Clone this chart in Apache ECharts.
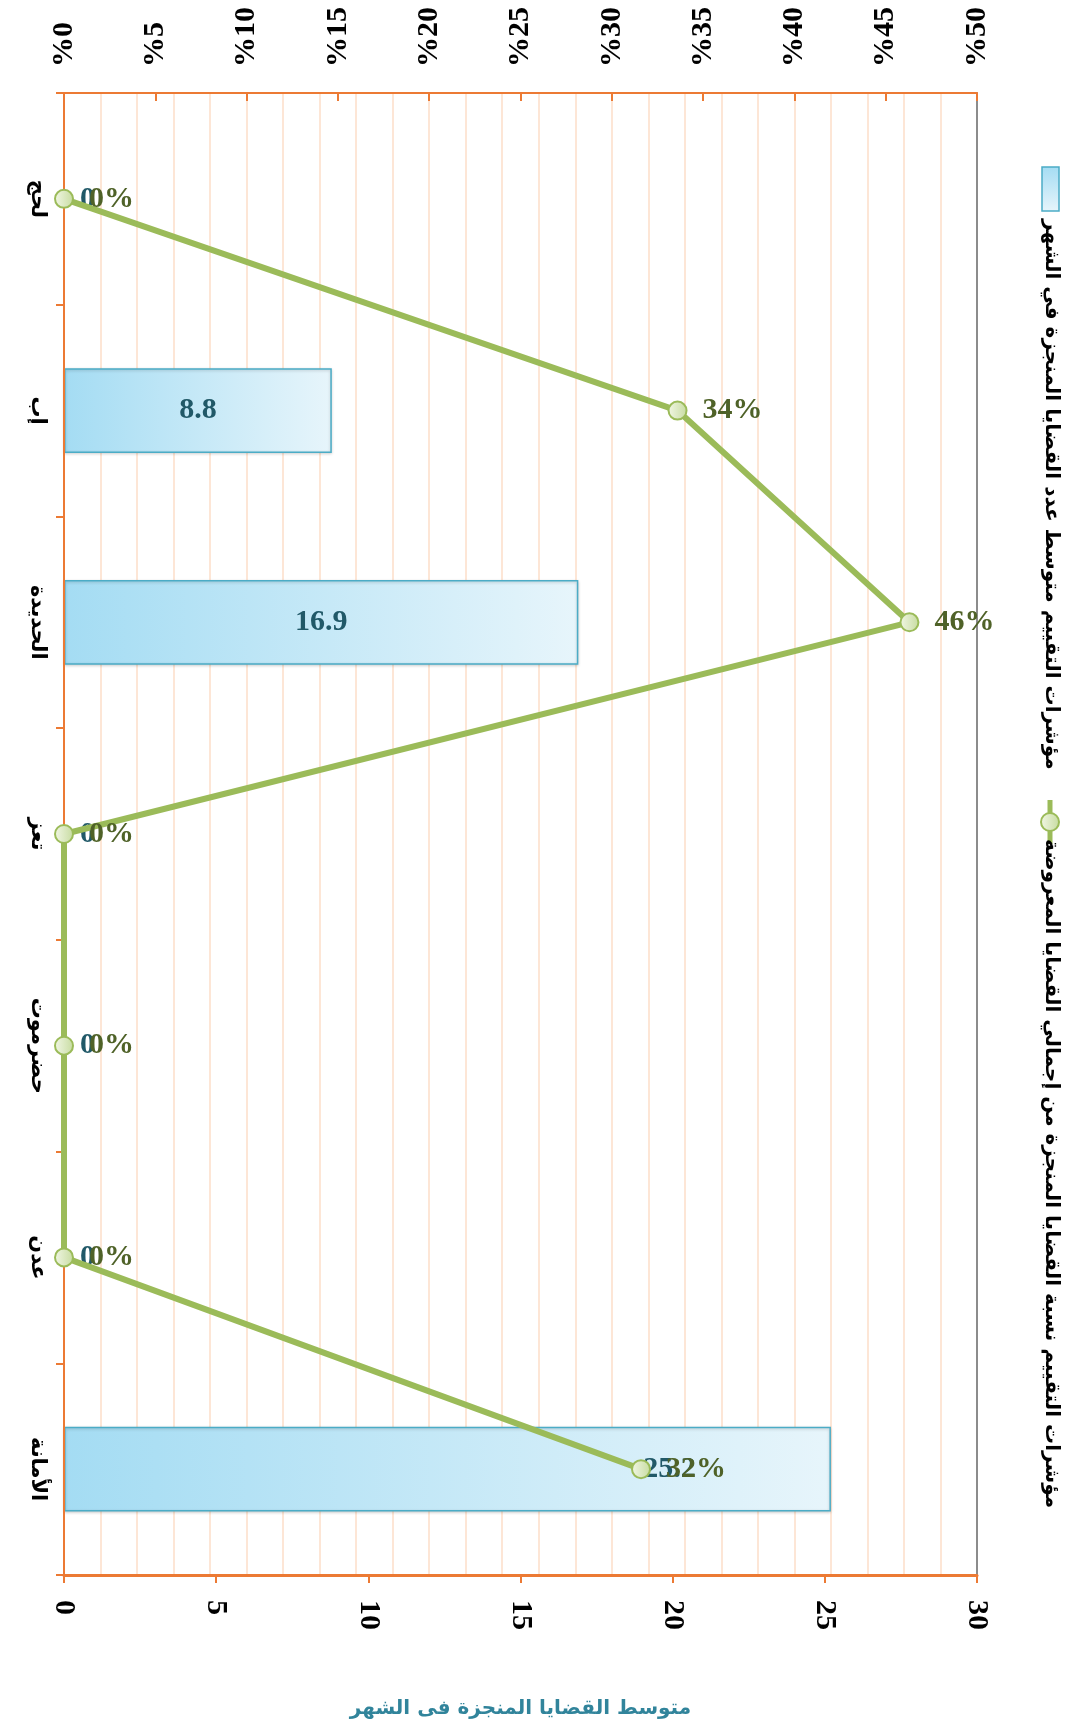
<!DOCTYPE html>
<html>
<head>
<meta charset="utf-8">
<script src="https://cdn.jsdelivr.net/npm/echarts@6/dist/echarts.min.js"></script>
<style>
html,body{margin:0;padding:0;background:#fff;}
#chart{width:1075px;height:1726px;}
</style>
</head>
<body>
<div id="chart"></div>
<script>
// ---- data ----
const categories = ['لحج', 'إب', 'الحديدة', 'تعز', 'حضرموت', 'عدن', 'الأمانة'];
const avgCasesPerMonth = [0, 8.8, 16.9, 0, 0, 0, 25.2];
const completedSharePct = [0, 33.6, 46.3, 0, 0, 0, 31.6];
const countAxisMax = 30, countAxisStep = 5;
const pctAxisMax = 50, pctAxisStep = 5;
const seriesNames = [
  'مؤشرات التقييم متوسط عدد القضايا المنجزة في الشهر',
  'مؤشرات التقييم نسبة القضايا المنجزة من إجمالي القضايا المعروضة'
];
const countAxisTitle = 'متوسط القضايا المنجزة فى الشهر';

// ---- styles ----
const ORANGE = '#ec7a34';
const NUM_FONT = 'Liberation Serif';
const AR_FONT = 'DejaVu Sans';
const barFill = {type:'linear', x:0, y:0, x2:1, y2:0,
  colorStops:[{offset:0, color:'#a4dcf3'},{offset:1, color:'#e7f5fb'}]};
const dotFill = {type:'linear', x:0, y:0, x2:1, y2:0,
  colorStops:[{offset:0, color:'#f2f7e6'},{offset:1, color:'#c6db9f'}]};

const chart = echarts.init(document.getElementById('chart'), null, {renderer:'canvas'});

const barData = avgCasesPerMonth.map((v, i) => {
  if (v === 0) return {value: v, itemStyle: {borderWidth: 0, shadowBlur: 0, shadowOffsetY: 0},
    label: {position: 'right', distance: 16}};
  if (i === categories.length - 1) return {value: v, label: {offset: [222, 0]}};
  return v;
});

const option = {
  backgroundColor: '#ffffff',
  animation: false,
  grid: {left: 64, right: 98, top: 93, bottom: 151, containLabel: false},
  xAxis: [
    {
      type: 'value', position: 'bottom', min: 0, max: countAxisMax, interval: countAxisStep,
      axisLine: {show: true, onZero: false, lineStyle: {color: ORANGE, width: 3}},
      axisTick: {show: true, inside: false, length: 8, lineStyle: {color: ORANGE, width: 2}},
      axisLabel: {rotate: -90, margin: 25, color: '#000', fontFamily: NUM_FONT, fontWeight: 'bold', fontSize: 30},
      splitLine: {show: false},
      name: countAxisTitle, nameLocation: 'middle', nameGap: 124,
      nameTextStyle: {color: '#31849b', fontFamily: AR_FONT, fontWeight: 'bold', fontSize: 20}
    },
    {
      type: 'value', position: 'top', min: 0, max: pctAxisMax, interval: pctAxisStep,
      axisLine: {show: true, onZero: false, lineStyle: {color: ORANGE, width: 2}},
      axisTick: {show: true, inside: true, length: 8, lineStyle: {color: ORANGE, width: 2}},
      axisLabel: {rotate: -90, margin: 26, color: '#000', fontFamily: NUM_FONT, fontWeight: 'bold', fontSize: 30,
        formatter: v => '%' + v},
      splitLine: {show: false}
    },
    {
      type: 'value', position: 'top', min: 0, max: 25, interval: 1,
      axisLine: {show: false}, axisTick: {show: false}, axisLabel: {show: false},
      splitLine: {show: true, lineStyle: {color: '#fde6d6', width: 2}}
    }
  ],
  yAxis: [
    {
      type: 'category', data: categories, inverse: true, position: 'left', z: 4,
      axisLine: {show: true, onZero: false, lineStyle: {color: ORANGE, width: 2}},
      axisTick: {show: true, inside: false, length: 8, lineStyle: {color: ORANGE, width: 2}},
      axisLabel: {rotate: -90, margin: 16, color: '#000', fontFamily: AR_FONT, fontWeight: 'bold', fontSize: 21},
      splitLine: {show: false}
    },
    {
      type: 'category', data: categories, inverse: true, position: 'right',
      axisLine: {show: true, onZero: false, lineStyle: {color: '#8c8c8c', width: 2}},
      axisTick: {show: false}, axisLabel: {show: false}, splitLine: {show: false}
    }
  ],
  series: [
    {
      name: seriesNames[0], type: 'bar', xAxisIndex: 0, yAxisIndex: 0,
      data: barData, barWidth: '40%', z: 2,
      itemStyle: {color: barFill, borderColor: '#4bacc6', borderWidth: 1.5,
        shadowColor: 'rgba(0,0,0,0.2)', shadowBlur: 3, shadowOffsetY: 1},
      label: {show: true, position: 'inside', color: '#215968', fontFamily: NUM_FONT,
        fontWeight: 'bold', fontSize: 30}
    },
    {
      name: seriesNames[1], type: 'line', xAxisIndex: 1, yAxisIndex: 0,
      data: completedSharePct, z: 5,
      lineStyle: {color: '#9bbb59', width: 6},
      symbol: 'circle', symbolSize: 18, showAllSymbol: true,
      itemStyle: {color: dotFill, borderColor: '#9bbb59', borderWidth: 2},
      label: {show: true, position: 'right', distance: 15, color: '#4f6228', fontFamily: NUM_FONT,
        fontWeight: 'bold', fontSize: 30, formatter: p => Math.round(p.value) + '%'}
    }
  ],
  graphic: [
    {type: 'rect', shape: {x: 1042, y: 167, width: 17, height: 44},
      style: {fill: {type:'linear', x:0, y:0, x2:0, y2:1,
        colorStops:[{offset:0, color:'#a4dcf3'},{offset:1, color:'#e7f5fb'}]}, stroke: '#4bacc6', lineWidth: 1.5}},
    {type: 'text', x: 1051, y: 219, rotation: -Math.PI / 2,
      style: {text: seriesNames[0], align: 'left', verticalAlign: 'middle', fill: '#000',
        fontFamily: AR_FONT, fontWeight: 'bold', fontSize: 20}},
    {type: 'line', shape: {x1: 1050, y1: 800, x2: 1050, y2: 844},
      style: {stroke: '#9bbb59', lineWidth: 5}},
    {type: 'circle', shape: {cx: 1050, cy: 822, r: 9},
      style: {fill: dotFill, stroke: '#9bbb59', lineWidth: 2}},
    {type: 'text', x: 1051, y: 839, rotation: -Math.PI / 2,
      style: {text: seriesNames[1], align: 'left', verticalAlign: 'middle', fill: '#000',
        fontFamily: AR_FONT, fontWeight: 'bold', fontSize: 20}}
  ]
};
chart.setOption(option);
</script>
</body>
</html>
